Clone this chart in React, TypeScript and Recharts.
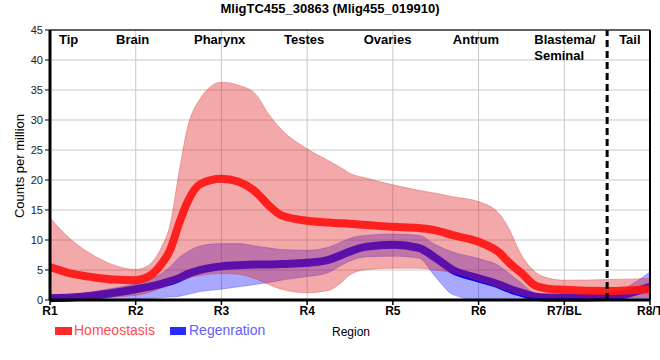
import React from 'react';
import { ComposedChart, Area, Line, XAxis, YAxis, CartesianGrid, ReferenceLine } from 'recharts';

const xPos = [0, 0.25, 0.5, 0.75, 1, 1.15, 1.3, 1.4, 1.5, 1.6, 1.75, 2, 2.2, 2.4, 2.55, 2.7, 3, 3.25, 3.4, 3.5, 3.7, 4, 4.3, 4.5, 4.7, 5, 5.25, 5.35, 5.5, 5.65, 5.8, 6, 6.5, 7];

const homMean = [5.5, 4.4, 3.8, 3.4, 3.3, 3.9, 6.0, 8.3, 12.5, 16.2, 19.3, 20.2, 19.7, 18.0, 15.8, 14.1, 13.2, 12.9, 12.8, 12.7, 12.5, 12.2, 12.0, 11.6, 10.8, 9.7, 7.8, 6.3, 4.5, 2.5, 1.9, 1.7, 1.5, 1.8];
const homHigh = [13.7, 10.0, 7.5, 5.8, 5.1, 5.8, 8.8, 12.5, 20.8, 28.5, 33.5, 36.3, 35.8, 34.3, 31.0, 28.4, 25.2, 23.2, 22.0, 21.1, 20.3, 19.2, 18.3, 17.8, 17.2, 16.4, 14.2, 12.0, 7.5, 4.8, 3.7, 3.3, 3.4, 3.6];
const homLow = [0, 0, 0.2, 0.5, 0.8, 1.2, 2.0, 2.6, 3.1, 3.6, 4.1, 4.4, 4.3, 3.5, 2.6, 1.8, 1.2, 1.6, 2.9, 4.2, 5.1, 5.3, 5.3, 5.0, 4.5, 3.2, 2.0, 1.5, 0.8, 0.4, 0.3, 0.3, 0.3, 0.4];

const regMean = [0.3, 0.4, 0.7, 1.2, 1.8, 2.2, 2.7, 3.1, 3.6, 4.3, 5.0, 5.6, 5.8, 5.9, 5.9, 6.0, 6.2, 6.7, 7.5, 8.1, 8.9, 9.2, 8.7, 7.0, 5.0, 3.6, 2.5, 1.9, 1.2, 0.6, 0.4, 0.4, 0.5, 2.2];
const regHigh = [0.5, 0.8, 1.4, 2.0, 2.8, 3.5, 4.4, 5.5, 7.0, 8.0, 9.0, 9.4, 9.4, 9.0, 8.7, 8.4, 8.3, 8.8, 9.7, 10.3, 10.8, 11.0, 10.8, 9.2, 8.0, 6.9, 5.6, 4.5, 2.8, 1.2, 0.8, 0.7, 1.0, 4.7];
const regLow = [0, 0, 0, 0, 0.1, 0.2, 0.4, 0.5, 0.6, 0.9, 1.4, 1.8, 2.2, 2.6, 2.9, 3.3, 3.9, 4.6, 5.8, 6.5, 7.2, 7.3, 7.0, 3.8, 0.9, 0, 0, 0, 0, 0, 0, 0, 0, 0];

const tickLabels = ['R1', 'R2', 'R3', 'R4', 'R5', 'R6', 'R7/BL', 'R8/T'];
const tickPositions = [0, 1, 2, 3, 4, 5, 6, 7];
const yTicks = [0, 5, 10, 15, 20, 25, 30, 35, 40, 45];
const regionNames = [['Tip'], ['Brain'], ['Pharynx'], ['Testes'], ['Ovaries'], ['Antrum'], ['Blastema/', 'Seminal'], ['Tail']];
const regionStarts = [0.105, 0.77, 1.68, 2.73, 3.66, 4.7, 5.65, 6.64];
const dividerPos = 6.5;

const title = 'MligTC455_30863 (Mlig455_019910)';
const yLabel = 'Counts per million';
const xLabel = 'Region';
const seriesNames = ['Homeostasis', 'Regenration'];

const data = xPos.map((x, i) => ({
  x,
  hm: homMean[i],
  hr: [homLow[i], homHigh[i]],
  rm: regMean[i],
  rr: [regLow[i], regHigh[i]],
}));

const FONT = "'Liberation Sans', Arial, sans-serif";

const RegionLabel = (props: any) => {
  const { viewBox, lines } = props;
  const x = viewBox?.x ?? 0;
  const y = (viewBox?.y ?? 30) + 14;
  return (
    <text x={x} y={y} fontFamily={FONT} fontSize={13} fontWeight="bold" fill="#000" textAnchor="start">
      {(lines as string[]).map((l, k) => (
        <tspan key={k} x={x} dy={k === 0 ? 0 : 16}>{l}</tspan>
      ))}
    </text>
  );
};

export default function App() {
  return (
    <div style={{ position: 'absolute', left: 0, top: 0, width: 660, height: 360, background: '#fff' }}>
      <ComposedChart width={660} height={360} data={data} margin={{ top: 30, right: 10, left: 10, bottom: 30 }}>
        <CartesianGrid stroke="#c8c8c8" strokeWidth={1} />
        <XAxis
          dataKey="x"
          type="number"
          domain={[0, 7]}
          ticks={tickPositions}
          tickFormatter={(v: number) => tickLabels[v] ?? ''}
          interval={0}
          height={30}
          axisLine={{ stroke: '#000', strokeWidth: 3 }}
          tickLine={{ stroke: '#000', strokeWidth: 1.5 }}
          tickSize={5}
          tickMargin={1}
          tick={{ fontFamily: FONT, fontSize: 12, fontWeight: 'bold', fill: '#000' }}
        />
        <YAxis
          type="number"
          domain={[0, 45]}
          ticks={yTicks}
          interval={0}
          width={40}
          axisLine={{ stroke: '#000', strokeWidth: 3 }}
          tickLine={{ stroke: '#000', strokeWidth: 1 }}
          tickSize={5}
          tickMargin={2}
          tick={{ fontFamily: FONT, fontSize: 11, fill: '#222' }}
        />
        <Area
          type="monotone"
          dataKey="rr"
          fill="#0000ff"
          fillOpacity={0.34}
          stroke="#0000ff"
          strokeOpacity={0.25}
          strokeWidth={1}
          dot={false}
          activeDot={false}
          isAnimationActive={false}
        />
        <Area
          type="monotone"
          dataKey="rm"
          baseValue={0}
          fill="none"
          fillOpacity={0}
          stroke="#0000ff"
          strokeWidth={8}
          dot={false}
          activeDot={false}
          isAnimationActive={false}
        />
        <Area
          type="monotone"
          dataKey="hr"
          fill="#e12828"
          fillOpacity={0.4}
          stroke="#d02020"
          strokeOpacity={0.3}
          strokeWidth={1}
          dot={false}
          activeDot={false}
          isAnimationActive={false}
        />
        <Line
          type="monotone"
          dataKey="hm"
          stroke="#ff1414"
          strokeOpacity={0.92}
          strokeWidth={8}
          dot={false}
          activeDot={false}
          isAnimationActive={false}
        />
        <ReferenceLine x={dividerPos} stroke="#000" strokeWidth={3} strokeDasharray="7 4" />
        <ReferenceLine x={7} stroke="#000" strokeWidth={2} />
        <ReferenceLine y={45} stroke="#333" strokeWidth={1.5} />
        {regionStarts.map((pos, i) => (
          <ReferenceLine
            key={'region' + i}
            x={pos}
            stroke="none"
            strokeWidth={0}
            label={<RegionLabel lines={regionNames[i]} />}
          />
        ))}
      </ComposedChart>
      <svg width={660} height={360} style={{ position: 'absolute', left: 0, top: 0, pointerEvents: 'none' }}>
        <text x={330} y={13} textAnchor="middle" fontFamily={FONT} fontSize={13} fontWeight="bold" fill="#000">{title}</text>
        <text x={0} y={0} transform="translate(24,166) rotate(-90)" textAnchor="middle" fontFamily={FONT} fontSize={13} fill="#000">{yLabel}</text>
        <text x={351} y={336} textAnchor="middle" fontFamily={FONT} fontSize={12} fill="#000">{xLabel}</text>
        <rect x={55} y={327} width={17} height={8} fill="#ff2a2a" />
        <text x={74} y={335} fontFamily={FONT} fontSize={14} fill="#ff4d4d">{seriesNames[0]}</text>
        <rect x={170} y={327} width={16} height={8} fill="#2a2aff" />
        <text x={189} y={335} fontFamily={FONT} fontSize={14} fill="#6060ff">{seriesNames[1]}</text>
      </svg>
    </div>
  );
}
